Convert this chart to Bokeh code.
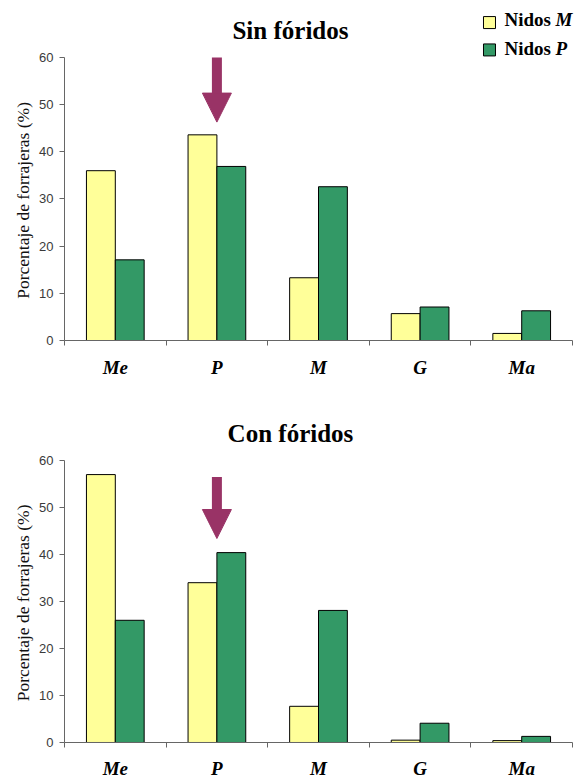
import numpy as np
from bokeh.plotting import figure
from bokeh.models import (Range1d, FixedTicker, ColumnDataSource, Label, Arrow, NormalHead)
from bokeh.core.properties import value
from bokeh.layouts import column
from bokeh.embed import file_html
from bokeh.resources import INLINE
from bokeh.transform import dodge

# ---------------- data ----------------
categories = ["Me", "P", "M", "G", "Ma"]
sin_nidos_M = [36.0, 43.6, 13.3, 5.7, 1.5]
sin_nidos_P = [17.1, 36.9, 32.6, 7.1, 6.3]
con_nidos_M = [57.0, 34.0, 7.7, 0.5, 0.4]
con_nidos_P = [26.0, 40.4, 28.1, 4.1, 1.3]
y_ticks = [0, 10, 20, 30, 40, 50, 60]
legend_word = "Nidos"
legend_letters = ["M", "P"]
titles = ["Sin fóridos", "Con fóridos"]
y_label = "Porcentaje de forrajeras (%)"
arrow_category = "P"
sin_arrow_y = (60.0, 46.3)
con_arrow_y = (56.5, 43.4)

# ---------------- style / placement ----------------
YELLOW = "#FFFF99"
GREEN = "#339966"
PLUM = "#993366"
AXIS = "#666666"
SERIF = "Liberation Serif"
SANS = "Liberation Sans"
W = 575
BAR_W = 0.284
Y_MAX = 60
X_LEFT = -0.63          # room left of the value axis (for its labels)
X_RIGHT_PAD = 0.0295
TITLE_POS = (2.224, 65.7)
YLABEL_POS = (-0.413, 29.7)
LEGEND_BOX_X = 4.183
LEGEND_BOX_Y = [67.4, 61.6]
LEGEND_TEXT_X = 4.331
LEGEND_LETTER_X = 4.833
LEGEND_TEXT_Y = [68.0, 62.0]


def make_chart(title, vals_M, vals_P, arrow_y, height, y_bottom, y_top, with_legend):
    n = len(categories)
    pos = [i + 0.5 for i in range(n)]
    src = ColumnDataSource(dict(x=pos, m=vals_M, p=vals_P))
    p = figure(width=W, height=height, x_range=Range1d(X_LEFT, n + X_RIGHT_PAD),
               y_range=Range1d(y_bottom, y_top),
               output_backend="svg", toolbar_location=None, title=None,
               min_border_left=0, min_border_right=0,
               min_border_top=0, min_border_bottom=0)
    p.outline_line_color = None
    p.xgrid.visible = False
    p.ygrid.visible = False

    p.vbar(x=dodge("x", -BAR_W / 2), top="m", width=BAR_W, source=src,
           fill_color=YELLOW, line_color="black", line_width=1)
    p.vbar(x=dodge("x", BAR_W / 2), top="p", width=BAR_W, source=src,
           fill_color=GREEN, line_color="black", line_width=1)

    ya = p.yaxis[0]
    ya.fixed_location = 0
    ya.bounds = (0, Y_MAX)
    ya.ticker = FixedTicker(ticks=y_ticks, minor_ticks=[])
    ya.major_tick_out = 5
    ya.major_tick_in = 0
    ya.minor_tick_out = 0
    ya.axis_line_color = AXIS
    ya.major_tick_line_color = AXIS
    ya.major_label_text_font = SANS
    ya.major_label_text_font_size = "13px"
    ya.major_label_text_color = "#3a3a3a"
    ya.major_label_standoff = 6

    xa = p.xaxis[0]
    xa.fixed_location = 0
    xa.bounds = (0, n)
    xa.ticker = FixedTicker(ticks=pos, minor_ticks=list(range(n + 1)))
    xa.major_label_overrides = {x: c for x, c in zip(pos, categories)}
    xa.major_tick_out = 0
    xa.major_tick_in = 0
    xa.minor_tick_out = 5
    xa.minor_tick_in = 0
    xa.axis_line_color = AXIS
    xa.minor_tick_line_color = AXIS
    xa.major_label_text_font = SERIF
    xa.major_label_text_font_style = "bold italic"
    xa.major_label_text_font_size = "19px"
    xa.major_label_text_color = "black"
    xa.major_label_standoff = 11

    p.add_layout(Label(x=YLABEL_POS[0], y=YLABEL_POS[1], text=y_label, angle=np.pi / 2,
                       text_font=SERIF, text_font_size="17.5px", text_color="#111111",
                       text_align="center", text_baseline="middle"))

    p.add_layout(Label(x=TITLE_POS[0], y=TITLE_POS[1], text=title, text_font=SERIF,
                       text_font_style="bold", text_font_size="25px",
                       text_align="center", text_baseline="middle", text_color="black"))

    ax = categories.index(arrow_category) + 0.5
    p.add_layout(Arrow(end=NormalHead(size=29, fill_color=PLUM, line_color=PLUM, line_width=1),
                       x_start=ax, y_start=arrow_y[0], x_end=ax, y_end=arrow_y[1],
                       line_color=PLUM, line_width=10, line_cap="butt"))

    if with_legend:
        leg = ColumnDataSource(dict(bx=[LEGEND_BOX_X] * 2, by=LEGEND_BOX_Y,
                                    color=[YELLOW, GREEN],
                                    tx=[LEGEND_TEXT_X] * 2, lx=[LEGEND_LETTER_X] * 2,
                                    ty=LEGEND_TEXT_Y,
                                    word=[legend_word] * 2, letter=legend_letters))
        p.rect(x="bx", y="by", width=12, height=12, width_units="screen",
               height_units="screen", fill_color="color", line_color="black",
               line_width=1, source=leg)
        p.text(x="tx", y="ty", text="word", source=leg, text_font=value(SERIF),
               text_font_style="bold", text_font_size="19px", text_align="left",
               text_baseline="middle", text_color="black")
        p.text(x="lx", y="ty", text="letter", source=leg, text_font=value(SERIF),
               text_font_style="bold italic", text_font_size="19px", text_align="left",
               text_baseline="middle", text_color="black")
    return p


p1 = make_chart(titles[0], sin_nidos_M, sin_nidos_P, sin_arrow_y, 390, -10.6, 72.08, True)
p2 = make_chart(titles[1], con_nidos_M, con_nidos_P, con_arrow_y, 390, -8.085, 74.89, False)

layout = column(p1, p2, spacing=0)
open("out.html", "w").write(file_html(layout, INLINE))
